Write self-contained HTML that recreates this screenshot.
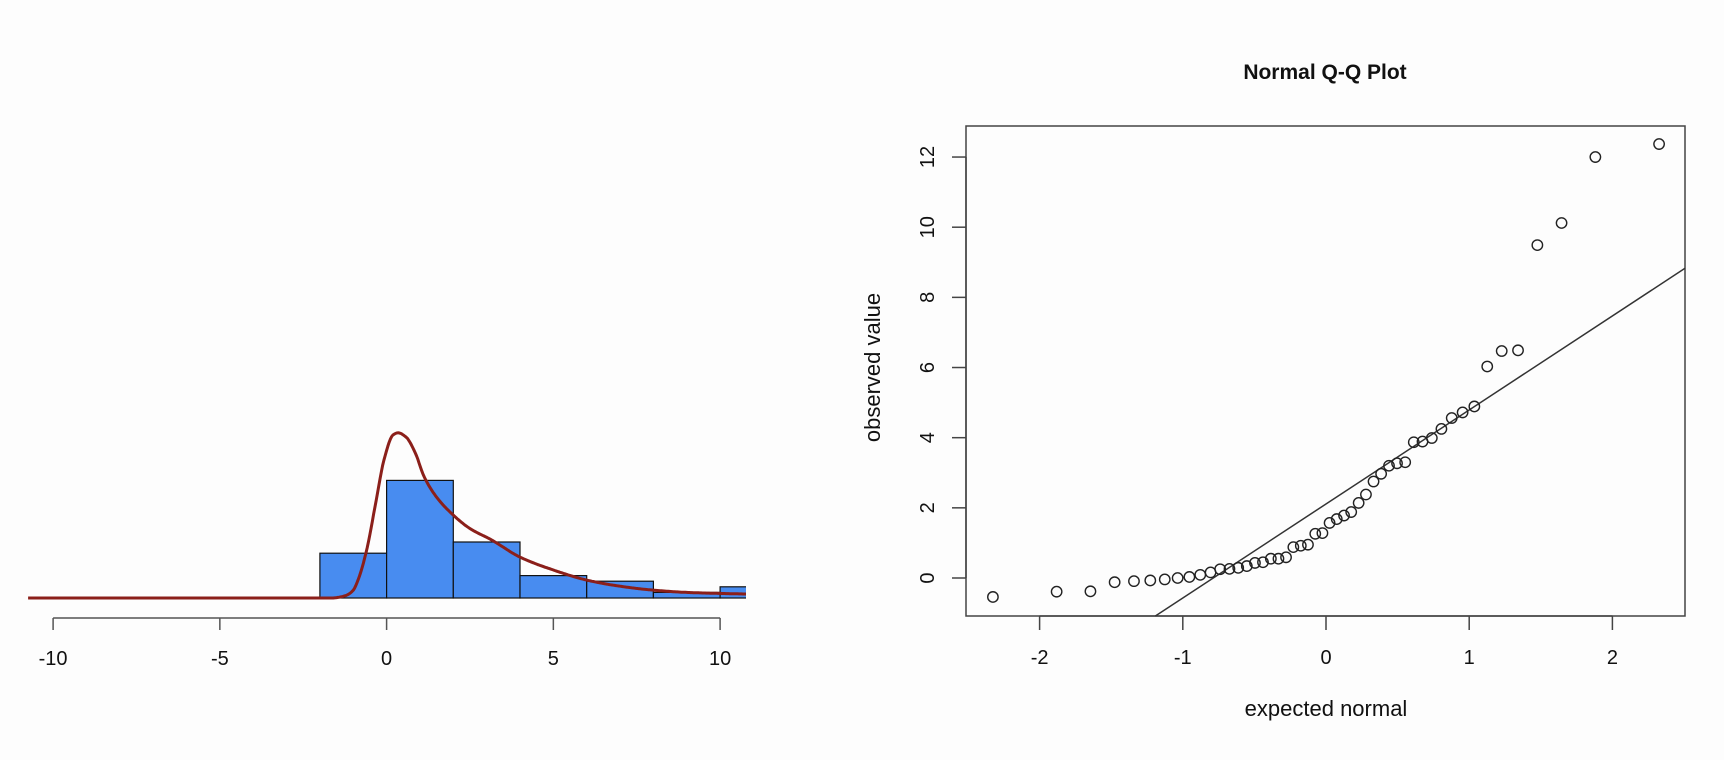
<!DOCTYPE html>
<html><head><meta charset="utf-8">
<style>
html,body{margin:0;padding:0;background:#fdfdfd;}
svg{display:block;font-family:"Liberation Sans",sans-serif;}
</style></head>
<body>
<svg id="c" width="1724" height="760" viewBox="0 0 1724 760">
<defs><clipPath id="hclip"><rect x="28" y="0" width="718" height="760"/></clipPath></defs>
<g id="hist"></g>
<g id="qq"></g>
</svg>
<script>
// ---- Histogram data ----
const binEdges = [-2, 0, 2, 4, 6, 8, 10, 12];
const binCounts = [8, 21, 10, 4, 3, 1, 2];
const histTicks = [-10, -5, 0, 5, 10];
const curveX = [-10.75, -1.6, -1.42, -1.2, -1.0, -0.89, -0.62, -0.35, -0.08, 0.19, 0.34, 0.59, 0.86, 1.13, 1.5, 2.0, 2.5, 3.14, 4.0, 5.0, 6.0, 7.0, 8.0, 9.0, 10.8];
const curveY = [0, 0, 0.15, 0.5, 1.4, 2.7, 8.0, 16.2, 24.6, 29.1, 29.5, 28.7, 25.9, 21.6, 18.0, 14.8, 12.4, 10.4, 7.3, 5.0, 3.2, 2.1, 1.4, 1.0, 0.7];
// ---- QQ data ----
const qqExpected = [-2.326,-1.881,-1.645,-1.476,-1.341,-1.227,-1.126,-1.036,-0.954,-0.878,-0.806,-0.739,-0.674,-0.613,-0.553,-0.496,-0.440,-0.385,-0.332,-0.279,-0.228,-0.176,-0.126,-0.075,-0.025,0.025,0.075,0.126,0.176,0.228,0.279,0.332,0.385,0.440,0.496,0.553,0.613,0.674,0.739,0.806,0.878,0.954,1.036,1.126,1.227,1.341,1.476,1.645,1.881,2.326];
const qqObserved = [-0.54,-0.39,-0.38,-0.12,-0.09,-0.07,-0.04,0.00,0.03,0.09,0.16,0.25,0.26,0.29,0.34,0.43,0.45,0.55,0.55,0.59,0.88,0.92,0.95,1.26,1.28,1.57,1.68,1.78,1.88,2.14,2.38,2.75,2.97,3.2,3.27,3.3,3.87,3.89,3.99,4.25,4.56,4.72,4.89,6.03,6.47,6.49,9.49,10.12,12.0,12.37];
const qqXTicks = [-2, -1, 0, 1, 2];
const qqYTicks = [0, 2, 4, 6, 8, 10, 12];
const qqLine = [2.11, 2.68]; // intercept, slope

const NS = "http://www.w3.org/2000/svg";
function mk(parent, tag, attrs, text){
  const e = document.createElementNS(NS, tag);
  for (const k in attrs) e.setAttribute(k, attrs[k]);
  if (text !== undefined) e.textContent = text;
  parent.appendChild(e);
  return e;
}

// ---------- Histogram ----------
const H = document.getElementById('hist');
const hx = v => 386.6 + v * 33.35;
const hBase = 598, hUnit = 5.6;
const hy = v => hBase - v * hUnit;
const barsG = mk(H, 'g', {'clip-path':'url(#hclip)'});


binCounts.forEach((c, i) => {
  const r = mk(barsG, 'rect', {x: hx(binEdges[i]), y: hy(c), width: hx(binEdges[i+1]) - hx(binEdges[i]), height: hBase - hy(c), fill:'#488cf0', stroke:'#111', 'stroke-width':1.2});
  
  
});
// monotone cubic interpolation (Fritsch-Carlson)
function monotonePath(xs, ys){
  const n = xs.length, dx = [], m = [], t = new Array(n);
  for (let i=0;i<n-1;i++){ dx.push(xs[i+1]-xs[i]); m.push((ys[i+1]-ys[i])/dx[i]); }
  t[0]=m[0]; t[n-1]=m[n-2];
  for (let i=1;i<n-1;i++){
    if (m[i-1]*m[i] <= 0) t[i]=0;
    else { const w1=2*dx[i]+dx[i-1], w2=dx[i]+2*dx[i-1]; t[i]=(w1+w2)/(w1/m[i-1]+w2/m[i]); }
  }
  let s = 'M' + hx(xs[0]).toFixed(1) + ',' + hy(ys[0]).toFixed(1);
  for (let i=0;i<n-1;i++){
    const steps = Math.max(1, Math.ceil(dx[i]/0.04));
    for (let k=1;k<=steps;k++){
      const u=k/steps, h=dx[i];
      const h00=2*u*u*u-3*u*u+1, h10=u*u*u-2*u*u+u, h01=-2*u*u*u+3*u*u, h11=u*u*u-u*u;
      const y=h00*ys[i]+h10*h*t[i]+h01*ys[i+1]+h11*h*t[i+1];
      s += ' L' + hx(xs[i]+u*h).toFixed(1) + ',' + hy(y).toFixed(1);
    }
  }
  return s;
}
const curve = mk(H, 'path', {d: monotonePath(curveX, curveY), fill:'none', stroke:'#8b1f1a', 'stroke-width':3, 'stroke-linejoin':'round', 'clip-path':'url(#hclip)'});


const hax = mk(H, 'line', {x1: hx(histTicks[0]), x2: hx(histTicks[histTicks.length-1]), y1: 618, y2: 618, stroke:'#555', 'stroke-width':1.5});


histTicks.forEach(t => {
  const tk = mk(H, 'line', {x1: hx(t), x2: hx(t), y1: 618, y2: 630, stroke:'#555', 'stroke-width':1.5});
  
  
  const lb = mk(H, 'text', {x: hx(t), y: 665, 'text-anchor':'middle', 'font-size':20, fill:'#111'}, String(t));
  
  
});

// ---------- QQ plot ----------
const Q = document.getElementById('qq');
const qx = v => 1326 + v * 143.2;
const qy = v => 578 - v * 35.08;
const box = mk(Q, 'rect', {x:966, y:126, width:719, height:490, fill:'none', stroke:'#444', 'stroke-width':1.5});


const title = mk(Q, 'text', {x:1325, y:79, 'text-anchor':'middle', 'font-size':21, 'font-weight':'bold', fill:'#111'}, 'Normal Q-Q Plot');


const xax = mk(Q, 'line', {x1: qx(qqXTicks[0]), x2: qx(qqXTicks[qqXTicks.length-1]), y1:616, y2:616, stroke:'#444', 'stroke-width':1.5});


qqXTicks.forEach(t => {
  const tk = mk(Q, 'line', {x1: qx(t), x2: qx(t), y1:616, y2:630, stroke:'#444', 'stroke-width':1.5});
  
  
  const lb = mk(Q, 'text', {x: qx(t), y: 664, 'text-anchor':'middle', 'font-size':20, fill:'#111'}, String(t));
  
  
});
const yax = mk(Q, 'line', {x1:966, x2:966, y1: qy(qqYTicks[0]), y2: qy(qqYTicks[qqYTicks.length-1]), stroke:'#444', 'stroke-width':1.5});


qqYTicks.forEach(t => {
  const tk = mk(Q, 'line', {x1:952, x2:966, y1: qy(t), y2: qy(t), stroke:'#444', 'stroke-width':1.5});
  
  
  const lb = mk(Q, 'text', {x:0, y:0, 'text-anchor':'middle', 'font-size':20, fill:'#111', transform:'translate(934,' + qy(t) + ') rotate(-90)'}, String(t));
  
  
});
const xt = mk(Q, 'text', {x:1326, y:716, 'text-anchor':'middle', 'font-size':22, fill:'#111'}, 'expected normal');


const yt = mk(Q, 'text', {x:0, y:0, 'text-anchor':'middle', 'font-size':22, fill:'#111', transform:'translate(880,' + qy(6) + ') rotate(-90)'}, 'observed value');


// reference line clipped to box
const x0 = 966, x1 = 1685;
const vx0 = (x0 - 1326) / 143.2, vx1 = (x1 - 1326) / 143.2;
let ya = qqLine[0] + qqLine[1] * vx0, xa = vx0;
const ymin = (578 - 616) / 35.08;
if (ya < ymin) { xa = (ymin - qqLine[0]) / qqLine[1]; ya = ymin; }
const ln = mk(Q, 'line', {x1: qx(xa), y1: qy(ya), x2: qx(vx1), y2: qy(qqLine[0] + qqLine[1] * vx1), stroke:'#333', 'stroke-width':1.5});


qqExpected.forEach((e, i) => {
  const c = mk(Q, 'circle', {cx: qx(e), cy: qy(qqObserved[i]), r:5.2, fill:'none', stroke:'#222', 'stroke-width':1.4});
  
  
});
</script>
</body></html>
